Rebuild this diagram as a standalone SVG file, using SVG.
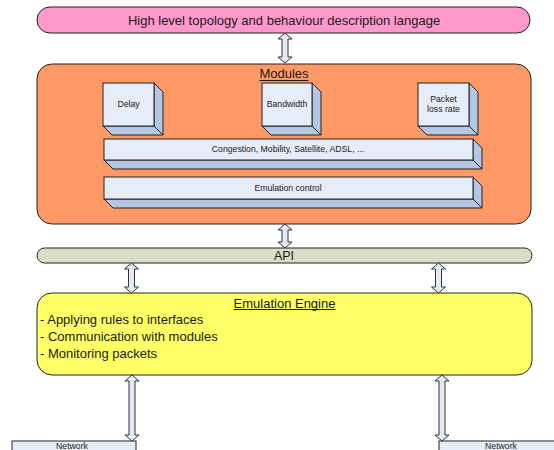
<svg xmlns="http://www.w3.org/2000/svg" width="554" height="450" viewBox="0 0 554 450">
<style>
text{font-family:"Liberation Sans",Arial,sans-serif;fill:#1a1a1a;text-anchor:middle;dominant-baseline:central}
.ol{stroke:#222;stroke-width:1}
.front{fill:#E6ECF8;stroke:#222;stroke-width:1}
.side{fill:#B3C6E4;stroke:#222;stroke-width:1;stroke-linejoin:round}
.arr{fill:#E4EAF2;stroke:#333;stroke-width:1;stroke-linejoin:miter}
.sm{font-size:8.7px}
.ul{stroke:#1a1a1a;stroke-width:1}
</style>
<rect width="554" height="450" fill="#fff"/>
<g id="lang">
<rect x="37" y="7" width="493" height="26" rx="13" fill="#FF99CC" class="ol"/>
<text x="284" y="20" font-size="13">High level topology and behaviour description langage</text>
</g>
<g id="modules">
<rect x="37" y="64" width="494" height="160" rx="15" fill="#FF9966" class="ol"/>
<text x="284" y="73.5" font-size="13">Modules</text>
<line class="ul" x1="259.5" y1="80.5" x2="308.5" y2="80.5"/>
</g>
<g id="delay">
<polygon class="side" points="154,83 163,92 163,135 154,126"/>
<polygon class="side" points="103,126 154,126 163,135 112,135"/>
<rect class="front" x="103" y="83" width="51" height="43"/>
<text class="sm" x="128.5" y="104">Delay</text>
</g>
<g id="bandwidth">
<polygon class="side" points="312,83 321,92 321,135 312,126"/>
<polygon class="side" points="262,126 312,126 321,135 271,135"/>
<rect class="front" x="262" y="83" width="50" height="43"/>
<text class="sm" x="287" y="104">Bandwidth</text>
</g>
<g id="packetloss">
<polygon class="side" points="469,83 478,92 478,135 469,126"/>
<polygon class="side" points="418,126 469,126 478,135 427,135"/>
<rect class="front" x="418" y="83" width="51" height="43"/>
<text class="sm" x="443.5" y="99">Packet</text>
<text class="sm" x="443.5" y="109">loss rate</text>
</g>
<g id="congestion">
<polygon class="side" points="473,139 482,148 482,169 473,160"/>
<polygon class="side" points="104,160 473,160 482,169 113,169"/>
<rect class="front" x="104" y="139" width="369" height="21"/>
<text class="sm" x="288" y="148.5">Congestion, Mobility, Satellite, ADSL, ...</text>
</g>
<g id="emulctl">
<polygon class="side" points="473,177 482,186 482,208 473,199"/>
<polygon class="side" points="104,199 473,199 482,208 113,208"/>
<rect class="front" x="104" y="177" width="369" height="22"/>
<text class="sm" x="288" y="187.5">Emulation control</text>
</g>
<g id="api">
<rect x="37" y="248" width="495" height="15" rx="7.5" fill="#DADEC6" class="ol"/>
<text x="284" y="256" font-size="12.5">API</text>
</g>
<g id="engine">
<rect x="37" y="293" width="495" height="82" rx="15" fill="#FFFF66" class="ol"/>
<text x="284.5" y="303" font-size="13">Emulation Engine</text>
<line class="ul" x1="233.5" y1="309.5" x2="335.5" y2="309.5"/>
<text x="40" y="319" font-size="13" style="text-anchor:start">- Applying rules to interfaces</text>
<text x="40" y="336" font-size="13" style="text-anchor:start">- Communication with modules</text>
<text x="40" y="353" font-size="13" style="text-anchor:start">- Monitoring packets</text>
</g>
<g id="net1">
<rect x="12" y="441" width="124" height="20" fill="#E6ECF8" class="ol"/>
<text class="sm" x="72" y="445.5">Network</text>
</g>
<g id="net2">
<rect x="439" y="441" width="124" height="20" fill="#E6ECF8" class="ol"/>
<text class="sm" x="501" y="445.5">Network</text>
</g>
<g id="connectors">
<polygon class="arr" points="285,33 292,39 288,39 288,57 292,57 285,63 278,57 282,57 282,39 278,39"/>
<polygon class="arr" points="285,224 292,230 288,230 288,242 292,242 285,248 278,242 282,242 282,230 278,230"/>
<polygon class="arr" points="131.5,263 138.5,269 134.5,269 134.5,287 138.5,287 131.5,293 124.5,287 128.5,287 128.5,269 124.5,269"/>
<polygon class="arr" points="438.5,263 445.5,269 441.5,269 441.5,287 445.5,287 438.5,293 431.5,287 435.5,287 435.5,269 431.5,269"/>
<polygon class="arr" points="132,375 139,381 135,381 135,435 139,435 132,441 125,435 129,435 129,381 125,381"/>
<polygon class="arr" points="442,375 449,381 445,381 445,435 449,435 442,441 435,435 439,435 439,381 435,381"/>
</g>
</svg>
